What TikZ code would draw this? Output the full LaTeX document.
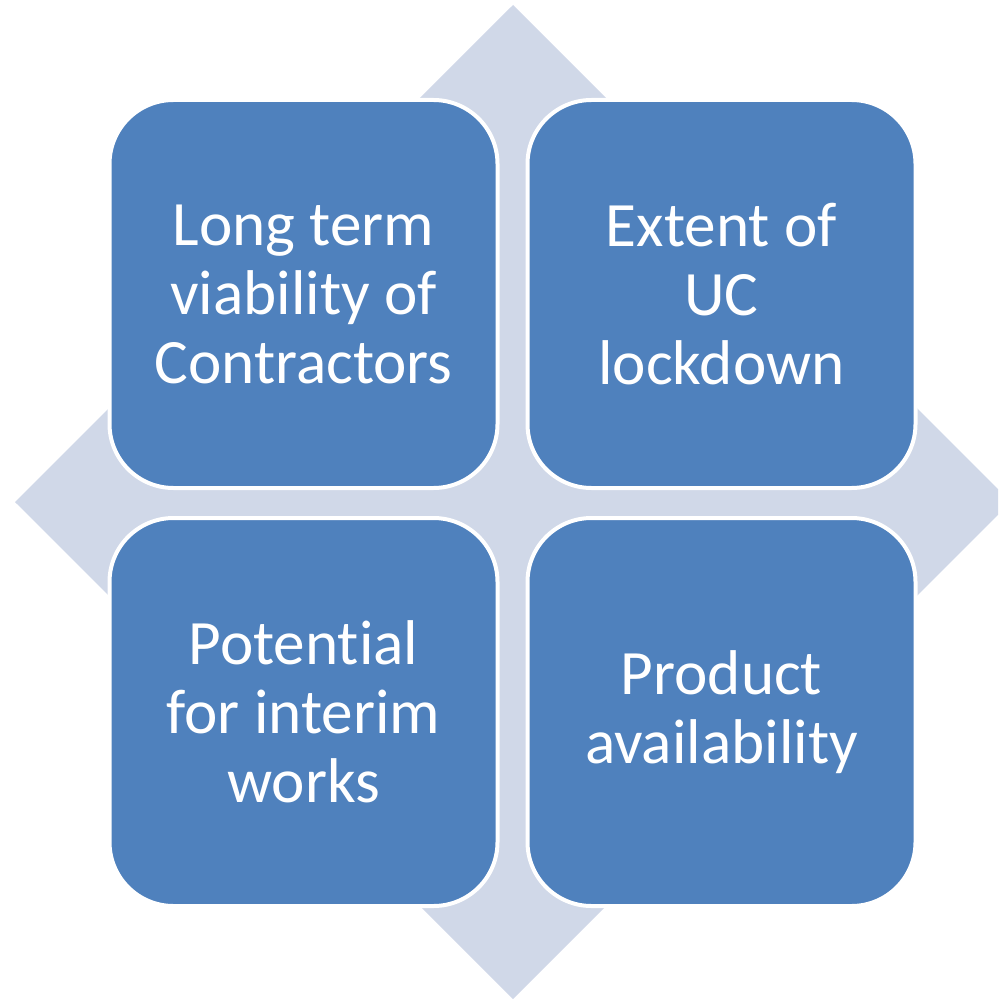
\documentclass[tikz,border=0pt]{standalone}
\usepackage{fontspec}
\setmainfont{Carlito}[Ligatures=NoCommon]
\definecolor{boxblue}{HTML}{4F81BD}
\definecolor{diamondgray}{HTML}{D0D8E8}
\begin{document}
\begin{tikzpicture}[x=0.5pt,y=-0.5pt,
  quad/.style={draw=white, line width=2pt, fill=boxblue, rounded corners=32pt,
    minimum width=194pt, minimum height=194pt, inner sep=0pt,
    text=white, align=center, font=\fontsize{31.6pt}{34.5pt}\selectfont}]
\useasboundingbox (0,0) rectangle (998,1000);
\clip (0,0) rectangle (998,1000);
\fill[diamondgray] (513,5) -- (1011,502) -- (513,999) -- (15,502) -- cycle;
\node[quad] (tl) at (303.5,294) {Long term\\viability of\\Contractors};
\node[quad] (tr) at (721.5,294) {Extent of\\UC\\lockdown};
\node[quad] (bl) at (303.5,712) {Potential\\for interim\\works};
\node[quad] (br) at (721.5,712) {Product\\availability};
\end{tikzpicture}
\end{document}
